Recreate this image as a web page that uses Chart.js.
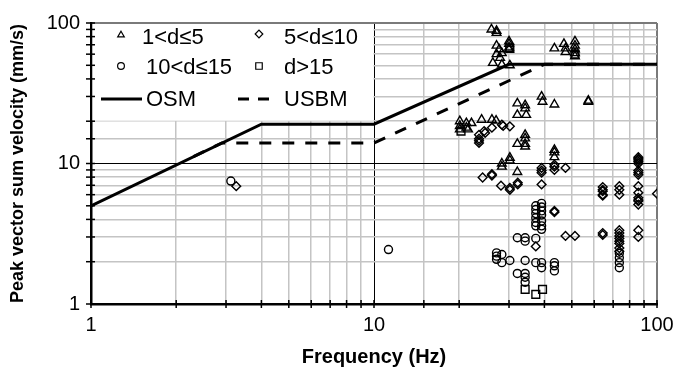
<!DOCTYPE html>
<html>
<head>
<meta charset="utf-8">
<script src="https://cdn.jsdelivr.net/npm/chart.js@4.4.1/dist/chart.umd.min.js"></script>
<style>
  html, body { margin: 0; padding: 0; background: #fff; }
  #wrap { width: 689px; height: 376px; }
</style>
</head>
<body>
<div id="wrap"><canvas id="ppvChart" width="689" height="376"></canvas></div>
<script>
// Frequency (Hz) and peak vector sum velocity (mm/s), one pair of arrays per distance band
const triFreq = [26, 27.1, 27.1, 27.1, 27.7, 28.3, 27.1, 27.9, 26.3, 28.3, 30.2, 30, 30, 30, 30,
  43.4, 46.9, 47.5, 47.5, 51.3, 51.3, 51.3, 51.3, 51.3,
  32.1, 34.2, 32.1, 34.5, 34.2, 39.1, 39.4, 43.4, 57.2, 57.2,
  20.1, 20.1, 20.1, 21.2, 21.2, 22.1, 24, 26.1, 21.5, 27,
  32.1, 34.2, 34.2, 34.2, 34.2, 43.4, 43.4, 43.4, 28.3, 28.3, 30.2, 30.2, 32.1];
const triPpv = [90, 88, 85, 69, 65, 61, 60, 56.5, 52, 50.6, 50, 74, 71, 67, 65,
  66, 71, 66, 62, 74, 69, 65, 61, 58,
  26.8, 26, 22.2, 22.2, 24.7, 29.9, 27.5, 26.3, 27.5, 28,
  20, 17.5, 18.5, 19.4, 18, 19.4, 20.5, 20.5, 17.5, 20.2,
  13.8, 15.1, 13.8, 13.2, 16, 12, 11.1, 12.5, 10, 9.5, 10.5, 11, 8.7];

const diaFreq = [23.5, 23.5, 23.5, 23.5, 24.5, 24.7, 26.1, 28.3, 28.6, 30.2,
  24.2, 26.1, 26.1, 28.1, 30.2, 30.2, 32.2, 32.2, 39.1, 39.1, 39.1, 39.1, 43.4, 43.4, 43.4, 47.5, 43.4, 43.4,
  64.3, 64.3, 64.3, 64.3, 64.3, 73.6, 73.6, 73.6, 85.9, 85.9, 85.9, 85.9, 85.9, 85.9, 85.9, 85.9, 85.9, 85.9, 85.9, 85.9, 85.9, 85.9, 100,
  47.5, 51.3, 64.3, 64.3, 73.6, 73.6, 73.6, 73.6, 73.6, 73.6, 73.6, 73.6, 85.9, 85.9, 37.3,
  3.26];
const diaPpv = [16, 15, 14.5, 14, 17, 16.5, 18, 18.9, 18.5, 18.4,
  7.95, 8.2, 8.4, 6.95, 6.7, 6.5, 7.1, 7.3, 9.3, 8.6, 8.9, 7.1, 9.5, 9, 9.8, 9.3, 4.5, 4.6,
  6.8, 6.5, 6.35, 6, 5.9, 6.9, 6.5, 6, 11.1, 10.8, 10.6, 10.3, 10, 8.9, 8.6, 8.3, 6.9, 6.2, 5.7, 5.5, 5.4, 5.1, 6.1,
  3.05, 3.05, 3.1, 3.2, 3.35, 3.2, 3.05, 2.93, 2.8, 2.7, 2.5, 2.37, 3.35, 3, 2.57,
  6.9];

const cirFreq = [3.12, 11.25,
  37.3, 37.3, 37.3, 37.3, 37.3, 37.3, 39.1, 39.1, 39.1, 39.1, 39.1, 39.1, 39.1,
  32.1, 34.2, 34.2, 37.3,
  27.1, 27.1, 27.1, 28.3, 28.3, 30.2, 34.2, 37.3, 39.1, 39.1, 43.4, 43.4, 43.4,
  32.1, 34.2, 34.2, 34.2,
  73.6, 73.6, 73.6, 73.6];
const cirPpv = [7.5, 2.44,
  5, 4.7, 4.4, 4.1, 3.8, 3.6, 5.2, 4.9, 4.6, 4.3, 3.9, 3.6, 3.4,
  2.96, 2.96, 2.8, 2.93,
  2.31, 2.19, 2.08, 2.25, 1.97, 2.04, 2.04, 1.97, 1.97, 1.81, 1.97, 1.87, 1.72,
  1.65, 1.65, 1.55, 1.43,
  2.13, 1.97, 1.81, 2.3];

const sqFreq = [34.2, 37.3, 39.4, 30.2, 51.3, 20.3];
const sqPpv = [1.27, 1.17, 1.27, 66, 60, 17];

// criteria lines
const osmFreq = [1, 4, 10, 30, 100];
const osmPpv = [5, 19.05, 19.05, 50.8, 50.8];
const usbmFreq = [2.3, 2.9, 10, 40, 100];
const usbmPpv = [11.2, 14, 14, 50.8, 50.8];

const decadeTicks = [1, 10, 100];

const FONT = 'Arial, "Liberation Sans", sans-serif';
Chart.defaults.font.family = FONT;
Chart.defaults.color = '#000';

const pts = (xs, ys) => xs.map((x, i) => ({ x: x, y: ys[i] }));
const isDecade = v => decadeTicks.some(d => Math.abs(v - d) < 1e-6);

function gridColor(c) {
  const v = c.tick.value;
  if (isDecade(v)) return Math.round(v) === 100 ? '#7a7a7a' : '#000';
  return '#c4c4c4';
}
function gridWidth(c) {
  const v = c.tick.value;
  if (isDecade(v)) return Math.round(v) === 100 ? 2 : 1;
  return 1.5;
}

// legend box in upper-left corner of plot, plus tick marks crossing the axes
const boxLegend = {
  id: 'boxLegend',
  beforeDatasetsDraw(chart) {
    const { ctx, chartArea, scales } = chart;
    const x10 = scales.x.getPixelForValue(10);
    const y20 = scales.y.getPixelForValue(20);
    ctx.save();
    ctx.fillStyle = '#fff';
    ctx.fillRect(chartArea.left + 1.5, chartArea.top + 1, x10 - chartArea.left - 2, y20 - chartArea.top - 1.5);

    // tick marks
    ctx.strokeStyle = '#000';
    ctx.lineWidth = 1.5;
    scales.x.ticks.forEach(t => {
      const px = scales.x.getPixelForValue(t.value);
      ctx.beginPath(); ctx.moveTo(px, chartArea.bottom - 4); ctx.lineTo(px, chartArea.bottom + 4); ctx.stroke();
    });
    scales.y.ticks.forEach(t => {
      const py = scales.y.getPixelForValue(t.value);
      ctx.beginPath(); ctx.moveTo(chartArea.left - 5, py); ctx.lineTo(chartArea.left + 4, py); ctx.stroke();
    });

    const items = [
      { style: 'triangle', r: 3.8, x: 121, y: 35, label: '1<d≤5', tx: 142, ty: 38 },
      { style: 'rectRot', r: 3.8, x: 259, y: 34, label: '5<d≤10', tx: 284, ty: 38 },
      { style: 'circle', r: 3.4, x: 121, y: 66, label: '10<d≤15', tx: 146, ty: 68 },
      { style: 'rect', r: 4.6, x: 259, y: 66, label: 'd>15', tx: 284, ty: 68 }
    ];
    ctx.font = '22px ' + FONT;
    ctx.textBaseline = 'middle';
    ctx.textAlign = 'left';
    items.forEach(it => {
      ctx.fillStyle = '#fff';
      ctx.strokeStyle = '#000';
      ctx.lineWidth = 1.2;
      Chart.helpers.drawPoint(ctx, { pointStyle: it.style, radius: it.r, borderWidth: 1.2, rotation: 0 }, it.x, it.y);
      ctx.fillStyle = '#000';
      ctx.fillText(it.label, it.tx, it.ty);
    });

    ctx.strokeStyle = '#000';
    ctx.lineWidth = 3;
    ctx.beginPath(); ctx.moveTo(101, 99); ctx.lineTo(142, 99); ctx.stroke();
    ctx.setLineDash([11, 9]);
    ctx.beginPath(); ctx.moveTo(238, 99); ctx.lineTo(277, 99); ctx.stroke();
    ctx.setLineDash([]);
    ctx.fillStyle = '#000';
    ctx.fillText('OSM', 146, 100);
    ctx.fillText('USBM', 284, 100);
    ctx.restore();
  }
};

const markerBase = {
  type: 'scatter',
  backgroundColor: 'rgba(255,255,255,0)',
  borderColor: '#000',
  borderWidth: 1.4,
  pointHoverRadius: 5
};

const ctx = document.getElementById('ppvChart').getContext('2d');
const ppvChart = new Chart(ctx, {
  type: 'scatter',
  data: {
    datasets: [
      Object.assign({}, markerBase, { label: '1<d≤5', data: pts(triFreq, triPpv), pointStyle: 'triangle', pointRadius: 5 }),
      Object.assign({}, markerBase, { label: '5<d≤10', data: pts(diaFreq, diaPpv), pointStyle: 'rectRot', pointRadius: 4.4 }),
      Object.assign({}, markerBase, { label: '10<d≤15', data: pts(cirFreq, cirPpv), pointStyle: 'circle', pointRadius: 4 }),
      Object.assign({}, markerBase, { label: 'd>15', data: pts(sqFreq, sqPpv), pointStyle: 'rect', pointRadius: 5.5 }),
      {
        label: 'OSM', data: pts(osmFreq, osmPpv), showLine: true, pointRadius: 0,
        borderColor: '#000', borderWidth: 3, fill: false
      },
      {
        label: 'USBM', data: pts(usbmFreq, usbmPpv), showLine: true, pointRadius: 0,
        borderColor: '#000', borderWidth: 3, borderDash: [12, 11], fill: false
      }
    ]
  },
  options: {
    responsive: false,
    animation: false,
    layout: { padding: { top: 16, right: 32, left: 0, bottom: 0 } },
    plugins: {
      legend: { display: false },
      tooltip: { enabled: false }
    },
    scales: {
      x: {
        type: 'logarithmic',
        min: 1,
        max: 100,
        afterFit(s) { s.height = 72; },
        grid: { color: gridColor, lineWidth: gridWidth, drawTicks: false },
        border: { color: '#000', width: 2.5 },
        ticks: {
          autoSkip: false, maxRotation: 0, padding: 9,
          font: { size: 20 },
          callback: v => isDecade(v) ? String(Math.round(v)) : ''
        },
        title: {
          display: true, text: 'Frequency (Hz)',
          font: { size: 20, weight: 'bold' },
          padding: { top: 0, bottom: 7 }
        }
      },
      y: {
        type: 'logarithmic',
        min: 1,
        max: 100,
        afterFit(s) { s.width = 91; },
        grid: { color: gridColor, lineWidth: gridWidth, drawTicks: false },
        border: { color: '#000', width: 2.5 },
        ticks: {
          autoSkip: false, padding: 11,
          font: { size: 20 },
          callback: v => isDecade(v) ? String(Math.round(v)) : ''
        },
        title: {
          display: true, text: 'Peak vector sum velocity (mm/s)',
          font: { size: 18, weight: 'bold' },
          padding: { top: 7, bottom: 0 }
        }
      }
    }
  },
  plugins: [boxLegend]
});
</script>
</body>
</html>
